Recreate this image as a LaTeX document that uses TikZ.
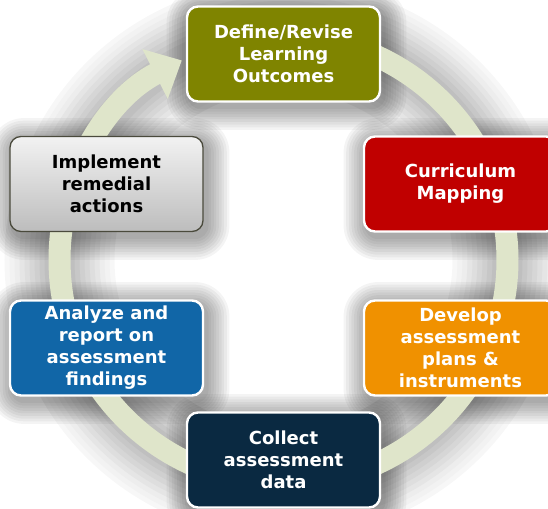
\documentclass[tikz,border=0pt]{standalone}
\usepackage{fontspec}
\setmainfont{DejaVu Sans}
\usepackage{tikz}
\usetikzlibrary{arrows.meta}

\definecolor{ringgreen}{HTML}{DFE5CA}
\definecolor{olivebox}{HTML}{7F8400}
\definecolor{redbox}{HTML}{C00000}
\definecolor{orangebox}{HTML}{F09100}
\definecolor{navybox}{HTML}{0A2941}
\definecolor{bluebox}{HTML}{1166A7}
\definecolor{greyedge}{HTML}{4A4A3C}

\begin{document}
\begin{tikzpicture}[x=1pt,y=1pt,>={Triangle[width=54pt,length=30pt]}]
				\tikzstyle{stepbox}=[rectangle,rounded corners=11pt,minimum width=193pt,
				    minimum height=95pt,inner sep=0pt,align=center,text=white,
				    draw=white,line width=2.4pt,
				    font=\bfseries\fontsize{18}{22}\selectfont]
				\tikzstyle{greybox}=[stepbox,text=black,draw=greyedge,line width=1.3pt,
				    top color=white!95!black,bottom color=white!74!black]

				\clip (0,0) rectangle (548,508);
				\coordinate (centre) at (283.5,248);

				% soft grey halo round the cycle
				\foreach \w/\p in {110/3,100/5,90/7,80/10,70/13,60/16,50/19,40/22,30/25}
				  \draw[draw=black!\p!white,line width=\w pt] (centre) circle (224);

				% soft shadows behind the boxes
				\foreach \cx/\cy in {283.5/454,460.5/324,460.5/160,283.5/48,106.5/160,106.5/324}
				  \foreach \k in {1,...,9}{
				    \pgfmathsetmacro\d{2.6*\k}
				    \fill[black,opacity=0.045,rounded corners=11pt+\d pt]
				      (\cx-96.5-\d+3,\cy-47.5-\d-5) rectangle (\cx+96.5+\d+3,\cy+47.5+\d-5);
				  }

				% the cycle arrow
				\draw[->,ringgreen,line width=22pt]
				  ([shift={(92:224)}]centre) arc[start angle=92,end angle=-243,radius=224];

				\node[stepbox,fill=olivebox]	(define)	at (283.5,454)	{Define/Revise\\Learning\\Outcomes};
				\node[stepbox,fill=redbox]	(mapping)	at (460.5,324)	{Curriculum\\Mapping};
				\node[stepbox,fill=orangebox]	(develop)	at (460.5,160)	{Develop\\assessment\\plans \&\\instruments};
				\node[stepbox,fill=navybox]	(collect)	at (283.5,48)	{Collect\\assessment\\data};
				\node[stepbox,fill=bluebox]	(analyze)	at (106.5,160)	{Analyze and\\report on\\assessment\\findings};
				\node[greybox]			(implement)	at (106.5,324)	{Implement\\remedial\\actions};
\end{tikzpicture}
\end{document}
